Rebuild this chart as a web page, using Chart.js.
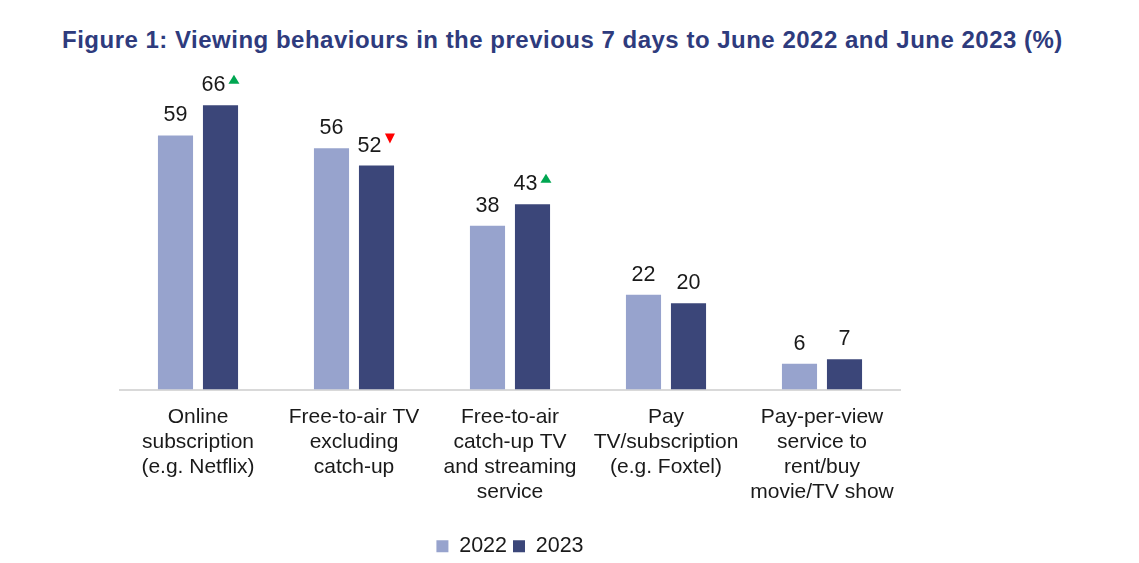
<!DOCTYPE html>
<html>
<head>
<meta charset="utf-8">
<script src="https://cdn.jsdelivr.net/npm/chart.js@4/dist/chart.umd.min.js"></script>
<style>
  html, body { margin: 0; padding: 0; background: #ffffff; }
  #wrap { position: relative; width: 1139px; height: 563px; }
  #title {
    position: absolute; left: 62px; top: 26px; margin: 0;
    font: bold 24px "Liberation Sans", Arial, sans-serif;
    letter-spacing: 0.5px;
    color: #2e3b7d; white-space: nowrap;
  }
  #chart { position: absolute; left: 0; top: 0; }
</style>
</head>
<body>
<div id="wrap">
  <h1 id="title">Figure 1: Viewing behaviours in the previous 7 days to June 2022 and June 2023 (%)</h1>
  <canvas id="chart" width="1139" height="563"></canvas>
</div>
<script>
// Viewing behaviours chart — 2022 vs 2023

const CATEGORIES = [
  ["Online", "subscription", "(e.g. Netflix)"],
  ["Free-to-air TV", "excluding", "catch-up"],
  ["Free-to-air", "catch-up TV", "and streaming", "service"],
  ["Pay", "TV/subscription", "(e.g. Foxtel)"],
  ["Pay-per-view", "service to", "rent/buy", "movie/TV show"]
];
const VALUES_2022 = [59, 56, 38, 22, 6];
const VALUES_2023 = [66, 52, 43, 20, 7];
// significant change markers on the 2023 values
const CHANGE_2023 = ["up", "down", "up", null, null];

const COLORS = {
  y2022: "#97a3cd",
  y2023: "#3b4679",
  up: "#00a651",
  down: "#ff0000"
};

const FONT = "Liberation Sans";

/**
 * Draw value labels above bars, plus the up/down triangles.
 */
const valueLabels = {
  id: "valueLabels",
  afterDatasetsDraw(chart) {
    const ctx = chart.ctx;
    ctx.save();
    ctx.font = "21.5px '" + FONT + "'";
    ctx.textAlign = "center";
    ctx.textBaseline = "alphabetic";
    chart.data.datasets.forEach((ds, di) => {
      const meta = chart.getDatasetMeta(di);
      meta.data.forEach((bar, i) => {
        const txt = String(ds.data[i]);
        const base = bar.y - 14;
        const mark = di === 1 ? CHANGE_2023[i] : null;
        const w = ctx.measureText(txt).width;
        const tx = mark ? bar.x - 7 : bar.x;
        ctx.fillStyle = "#1a1a1a";
        ctx.fillText(txt, tx, base);
        if (!mark) return;
        const cx = tx + w / 2 + 8.5;
        ctx.beginPath();
        if (mark === "up") {
          ctx.fillStyle = COLORS.up;
          ctx.moveTo(cx - 5.5, base - 7.5);
          ctx.lineTo(cx + 5.5, base - 7.5);
          ctx.lineTo(cx, base - 16.5);
        } else {
          ctx.fillStyle = COLORS.down;
          ctx.moveTo(cx - 5, base - 18);
          ctx.lineTo(cx + 5, base - 18);
          ctx.lineTo(cx, base - 8);
        }
        ctx.closePath();
        ctx.fill();
      });
    });
    ctx.restore();
  }
};

new Chart(document.getElementById("chart").getContext("2d"), {
  type: "bar",
  data: {
    labels: CATEGORIES,
    datasets: [
      { label: "2022", data: VALUES_2022, backgroundColor: COLORS.y2022 },
      { label: "2023", data: VALUES_2023, backgroundColor: COLORS.y2023 }
    ]
  },
  options: {
    responsive: false,
    animation: false,
    categoryPercentage: 0.577,
    barPercentage: 0.78,
    layout: { padding: { top: 88, left: 120, right: 239, bottom: -4 } },
    plugins: {
      legend: {
        position: "bottom",
        labels: {
          font: { family: FONT, size: 21.5 },
          color: "#1a1a1a",
          boxWidth: 12,
          boxHeight: 12,
          padding: 6
        }
      },
      tooltip: { enabled: false }
    },
    scales: {
      y: {
        display: false,
        min: 0,
        max: 70
      },
      x: {
        afterFit: (scale) => { scale.height = 140; },
        grid: { display: false },
        border: { color: "#d9d9d9", width: 2 },
        ticks: {
          autoSkip: false,
          maxRotation: 0,
          padding: 7,
          color: "#1a1a1a",
          font: { family: FONT, size: 21, lineHeight: 25 / 21 }
        }
      }
    }
  },
  plugins: [valueLabels]
});
</script>
</body>
</html>
